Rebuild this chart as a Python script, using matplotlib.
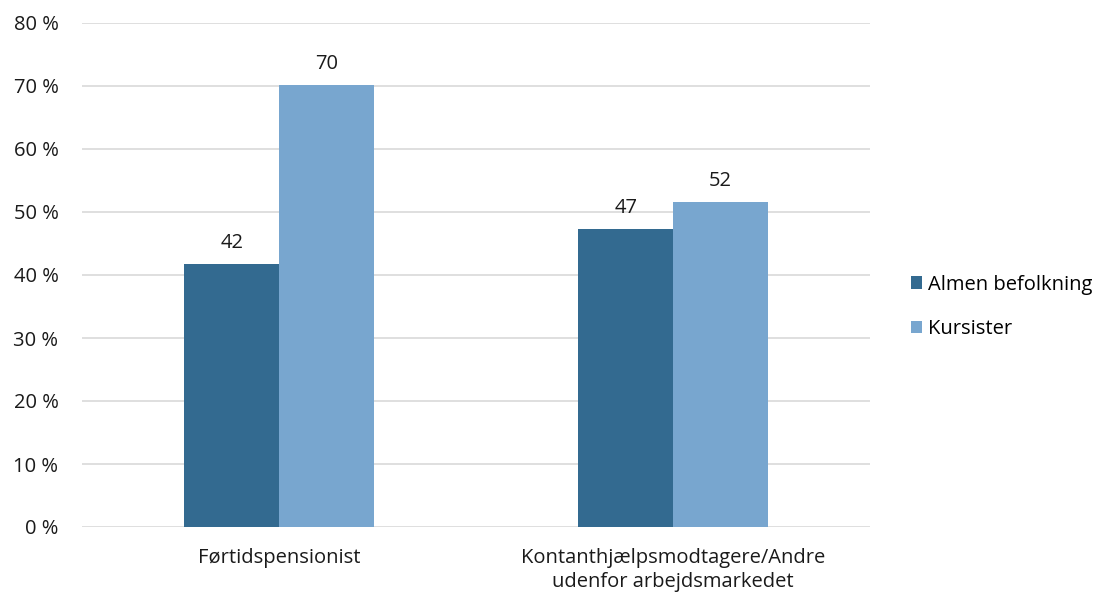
import matplotlib.pyplot as plt
import numpy as np

plt.rcParams['font.family'] = ['Open Sans', 'DejaVu Sans']

# ── Data ──────────────────────────────────────────────────────────
categories = ['Førtidspensionist', 'Kontanthjælpsmodtagere/Andre\nudenfor arbejdsmarkedet']
series_names = ['Almen befolkning', 'Kursister']
almen = [41.7, 47.3]
kursister = [70.1, 51.6]
yticks = [0, 10, 20, 30, 40, 50, 60, 70, 80]

colors = ['#336A90', '#78A6CF']
FS = 14.5

# ── Plot ──────────────────────────────────────────────────────────
fig = plt.figure(figsize=(11.04, 5.96), dpi=100)
ax = fig.add_axes([82 / 1104, 69 / 596, 788 / 1104, 504 / 596])

x = np.arange(len(categories))
w = 0.24
for i, (vals, name) in enumerate(zip([almen, kursister], series_names)):
    bars = ax.bar(x + (i - 0.5) * w, vals, w, color=colors[i], label=name, zorder=3)
    for b, v in zip(bars, vals):
        ax.annotate(f'{v:.0f}', (b.get_x() + b.get_width() / 2, v),
                    xytext=(0, 8), textcoords='offset points',
                    ha='center', va='bottom', fontsize=FS, color='#1a1a1a')

ax.set_xlim(-0.5, 1.5)
ax.set_ylim(0, 80)
ax.set_yticks(yticks)
ax.set_yticklabels([f'{t} %' for t in yticks])
ax.set_xticks(x)
ax.set_xticklabels(categories, linespacing=1.25)
ax.grid(axis='y', color='#D9D9D9', lw=1.2, zorder=0)
for s in ax.spines.values():
    s.set_visible(False)
ax.tick_params(length=0, labelsize=FS, colors='#1a1a1a')
ax.tick_params(axis='y', pad=17)
ax.tick_params(axis='x', pad=15)

ax.legend(loc='center left', bbox_to_anchor=(1.052, 0.437), frameon=False,
          fontsize=FS, handlelength=0.55, handleheight=0.55, handletextpad=0.3,
          labelspacing=1.2, borderaxespad=0, borderpad=0)

plt.savefig('out.png', dpi=100)
